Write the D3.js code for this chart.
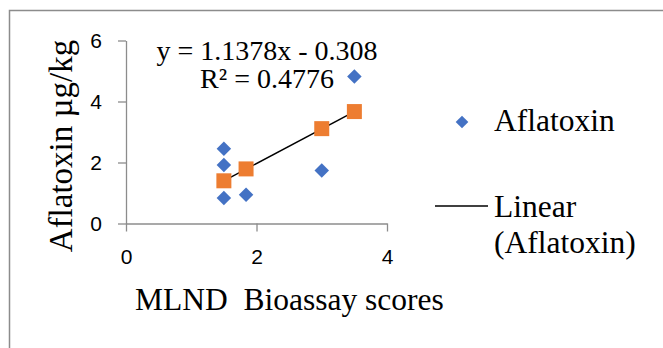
<!DOCTYPE html>
<html>
<head>
<meta charset="utf-8">
<script src="https://cdn.jsdelivr.net/npm/d3@7"></script>
<style>
  body { margin: 0; background: #fff; }
  svg { display: block; }
  .serif { font-family: "Liberation Serif", "Times New Roman", serif; fill: #000; }
</style>
</head>
<body>
<svg width="663" height="348"></svg>
<script>
// observed points (MLND score, aflatoxin ug/kg)
var scores    = [1.5, 1.5, 1.5, 1.84, 3.0, 3.5];
var aflatoxin = [2.45, 1.92, 0.84, 0.94, 1.74, 4.82];

// fitted values, drawn as orange squares
var fitScores = [1.5, 1.84, 3.0, 3.5];
var fitValues = [1.40, 1.79, 3.11, 3.67];

// trendline end points
var trendX = [1.5, 3.5];
var trendY = [1.40, 3.67];

var xTicks = [0, 2, 4];
var yTicks = [0, 2, 4, 6];

var svg = d3.select("svg");

// outer frame (only left/top visible)
svg.append("rect")
    .attr("x", 9.5).attr("y", 10.5)
    .attr("width", 700).attr("height", 400)
    .attr("fill", "none")
    .attr("stroke", "#8c8c8c")
    .attr("stroke-width", 1.5);

var x = d3.scaleLinear().domain([0, 4]).range([126, 387]);
var y = d3.scaleLinear().domain([0, 6]).range([223.5, 40.5]);

var axisColor = "#8c8c8c";

var gx = svg.append("g")
    .attr("transform", "translate(0," + y(0) + ")")
    .call(d3.axisBottom(x).tickValues(xTicks).tickFormat(d3.format("d"))
        .tickSize(8).tickSizeOuter(0).tickPadding(18));
var gy = svg.append("g")
    .attr("transform", "translate(" + x(0) + ",0)")
    .call(d3.axisLeft(y).tickValues(yTicks).tickFormat(d3.format("d"))
        .tickSize(8).tickSizeOuter(0).tickPadding(16));

[gx, gy].forEach(function(g) {
    g.attr("font-family", "Liberation Sans, Arial, sans-serif").attr("font-size", 21);
    g.selectAll("text").attr("fill", "#000");
    g.selectAll(".domain, line").attr("stroke", axisColor).attr("stroke-width", 1.3);
});

// trendline
var trend = trendX.map(function(d, i) { return [d, trendY[i]]; });
svg.append("path")
    .datum(trend)
    .attr("d", d3.line().x(function(d) { return x(d[0]); }).y(function(d) { return y(d[1]); }))
    .attr("stroke", "#000")
    .attr("stroke-width", 1.5)
    .attr("fill", "none");

// fitted squares
svg.append("g").selectAll("path")
    .data(fitScores)
    .enter().append("path")
        .attr("d", d3.symbol().type(d3.symbolSquare).size(225))
        .attr("transform", function(d, i) { return "translate(" + x(d) + "," + y(fitValues[i]) + ")"; })
        .attr("fill", "#ED7D31");

// observed diamonds
svg.append("g").selectAll("path")
    .data(scores)
    .enter().append("path")
        .attr("d", d3.symbol().type(d3.symbolSquare).size(105))
        .attr("transform", function(d, i) { return "translate(" + x(d) + "," + y(aflatoxin[i]) + ") rotate(45)"; })
        .attr("fill", "#4472C4");

// equation
svg.append("text").attr("class", "serif")
    .attr("x", 267).attr("y", 60)
    .attr("text-anchor", "middle")
    .attr("font-size", 28)
    .text("y = 1.1378x - 0.308");
svg.append("text").attr("class", "serif")
    .attr("x", 267).attr("y", 88)
    .attr("text-anchor", "middle")
    .attr("font-size", 28)
    .text("R² = 0.4776");

// axis titles
svg.append("text").attr("class", "serif")
    .attr("transform", "translate(72,146) rotate(-90)")
    .attr("text-anchor", "middle")
    .attr("font-size", 33)
    .text("Aflatoxin µg/kg");
svg.append("text").attr("class", "serif")
    .attr("x", 135).attr("y", 310)
    .attr("font-size", 31.5)
    .style("white-space", "pre")
    .text("MLND  Bioassay scores");

// legend
var legend = svg.append("g");
legend.append("path")
    .attr("d", d3.symbol().type(d3.symbolSquare).size(80))
    .attr("transform", "translate(462,122) rotate(45)")
    .attr("fill", "#4472C4");
legend.append("text").attr("class", "serif")
    .attr("x", 494).attr("y", 131).attr("font-size", 31.5)
    .text("Aflatoxin");
legend.append("line")
    .attr("x1", 435).attr("x2", 488)
    .attr("y1", 206).attr("y2", 206)
    .attr("stroke", "#000").attr("stroke-width", 1.5);
legend.append("text").attr("class", "serif")
    .attr("x", 494).attr("y", 217).attr("font-size", 31.5)
    .text("Linear");
legend.append("text").attr("class", "serif")
    .attr("x", 494).attr("y", 253).attr("font-size", 31.5)
    .text("(Aflatoxin)");
</script>
</body>
</html>
